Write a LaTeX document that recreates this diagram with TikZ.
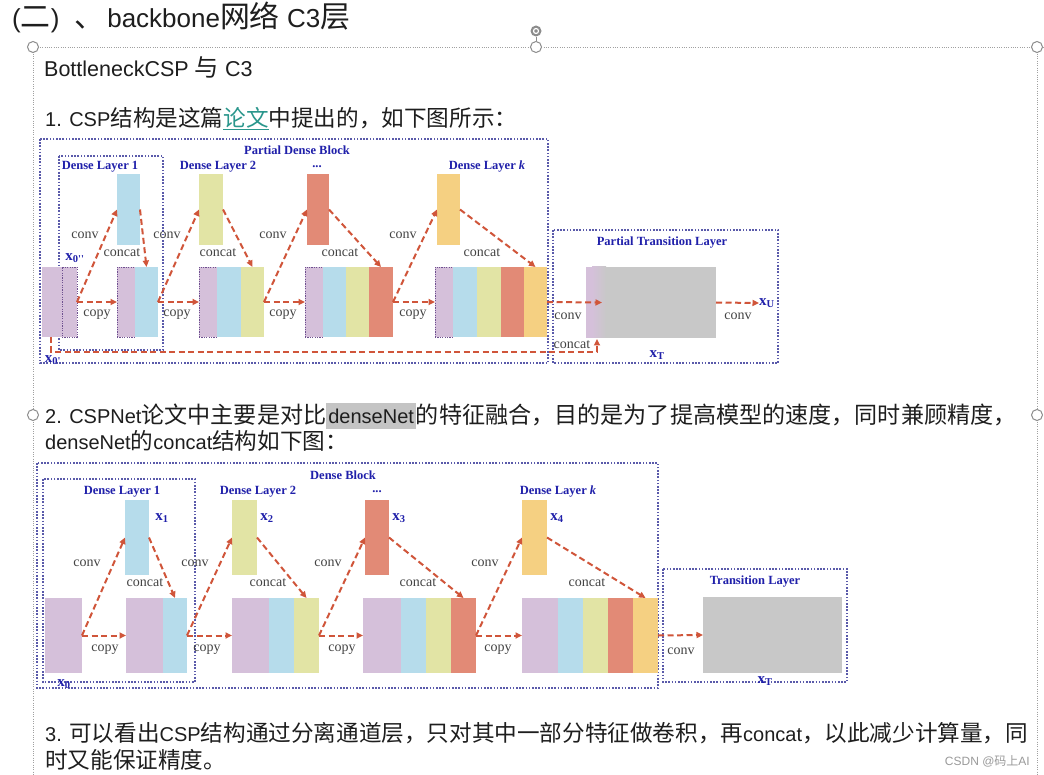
\documentclass[tikz,border=0pt]{standalone}
\usepackage{fontspec}
\setmainfont{Liberation Sans}
\newfontfamily\cjk[Scale=1.13]{Noto Sans CJK SC}
\newfontfamily\cjkb[Scale=1.155]{Noto Sans CJK SC}
\newfontfamily\cjt[Scale=1.15]{Noto Sans CJK SC}
\newfontfamily\cjw{Noto Sans CJK SC}
\newfontfamily\srf{Liberation Serif}
\usetikzlibrary{arrows.meta,fit,calc}
\definecolor{cP}{HTML}{D5C0DA}
\definecolor{cB}{HTML}{B6DCEB}
\definecolor{cY}{HTML}{E2E4A5}
\definecolor{cS}{HTML}{E28A76}
\definecolor{cO}{HTML}{F5D082}
\definecolor{cG}{HTML}{C8C8C8}
\definecolor{arc}{HTML}{D0553A}
\definecolor{lbc}{HTML}{444444}
\definecolor{blc}{HTML}{2020AA}
\definecolor{dbc}{HTML}{5A5AAA}
\definecolor{pdc}{HTML}{6E5090}
\definecolor{frc}{HTML}{A0A0A0}
\definecolor{hdc}{HTML}{8C8C8C}
\definecolor{txc}{HTML}{1E1E1E}
\definecolor{lnk}{HTML}{2A968C}
\definecolor{hlc}{HTML}{C4C4C4}
\definecolor{wmc}{HTML}{9A9A9A}
\newcommand\hlt[1]{{\setlength{\fboxsep}{0pt}\colorbox{hlc}{\rule[-6pt]{0pt}{26pt}\hspace{2pt}#1\hspace{2pt}}}}
\newcommand\B[4]{\node[blk,fill=#2,fit={#3 #4}] (#1) {};}
\newcommand\BD[4]{\node[blk,fill=#2,pdot,fit={#3 #4}] (#1) {};}
\tikzset{
 blk/.style={inner sep=0pt, outer sep=0pt, draw=none},
 pdot/.style={draw=pdc, dash pattern=on 1.2pt off 1.2pt, line width=0.9pt},
 arr/.style={draw=arc, line width=2pt, dash pattern=on 6pt off 3.5pt, -{Triangle[length=6.5pt,width=6pt]}},
 lbl/.style={font=\srf\fontsize{14}{14}\selectfont, text=lbc, inner sep=0pt},
 bl/.style={font=\srf\bfseries\fontsize{12.5}{13}\selectfont, text=blc, inner sep=0pt},
 bx/.style={font=\srf\bfseries\fontsize{15}{15}\selectfont, text=blc, inner sep=0pt},
 dbox/.style={draw=dbc, line width=1.1pt, dash pattern=on 1.6pt off 1.6pt},
 frm/.style={draw=frc, line width=0.8pt, dash pattern=on 1pt off 1.3pt},
 hdl/.style={circle, draw=hdc, line width=1pt, fill=white, minimum size=11pt, inner sep=0pt},
 txt/.style={inner sep=0pt, anchor=base west, text=txc, font=\fontsize{20}{24}\selectfont},
}
\begin{document}
\begin{tikzpicture}[x=1pt,y=-1pt]
\useasboundingbox (0,0) rectangle (1044,775);
\fill[white] (0,0) rectangle (1044,775);

% ---------- text box frame ----------
\coordinate (fTL) at (33,47);
\coordinate (fTR) at (1044,47);
\coordinate (fBL) at (33,775);
\coordinate (fRT) at (1037,47);
\coordinate (fRB) at (1037,775);
\draw[frm] (fTL) -- (fTR);
\draw[frm] (fTL) -- (fBL);
\draw[frm] (fRT) -- (fRB);
\node[hdl] (hA) at (33,47) {};
\node[hdl] (hB) at (536,47) {};
\node[hdl] (hC) at (1037,47) {};
\node[hdl] (hD) at (33,415) {};
\node[hdl] (hE) at (1037,415) {};
\node[circle, fill=hdc, minimum size=11pt, inner sep=0pt] (rot) at (536,31) {};
\node[circle, draw=white, line width=1.2pt, minimum size=5pt, inner sep=0pt] (roti) at (rot) {};
\draw[hdc, line width=1pt] (rot) -- (hB);

% ---------- texts ----------
\node[inner sep=0pt, anchor=base west, text=txc, font=\fontsize{26}{30}\selectfont] (title) at (12,28)
  {({\cjt 二})\hspace{15pt}{\cjt 、}\hspace{3pt}backbone{\cjt 网络} C3{\cjt 层}};
\node[inner sep=0pt, anchor=base west, text=txc, font=\fontsize{21.5}{24}\selectfont] (h1) at (44,77) {BottleneckCSP {\cjk 与} C3};
\node[txt] (p1) at (45,126.5) {1. CSP{\cjk 结构是这篇}{\color{lnk}\underline{\cjk 论文}}{\cjk 中提出的，如下图所示：}};
\node[txt] (p2a) at (45,423) {2. CSPNet{\cjkb 论文中主要是对比}\hlt{denseNet}{\cjkb 的特征融合，目的是为了提高模型的速度，同时兼顾精度，}};
\node[txt] (p2b) at (45,449.5) {denseNet{\cjk 的}concat{\cjk 结构如下图：}};
\node[txt] (p3a) at (45,741.5) {3. {\cjk 可以看出}CSP{\cjk 结构通过分离通道层，只对其中一部分特征做卷积，再}concat{\cjk ，以此减少计算量，同}};
\node[txt] (p3b) at (45,768.5) {{\cjk 时又能保证精度。}};
\node[anchor=base east, inner sep=0pt, text=wmc, font=\fontsize{12}{12}\selectfont] (wm) at (1030,765) {CSDN @{\cjw 码上}AI};

% ================= Diagram 1 =================
\draw[dbox] (40,139) rectangle (548,363);
\draw[dbox] (59,156) rectangle (163,350);
\draw[dbox] (553,230) rectangle (778,363);

\B{a0}{cP}{(42,267)}{(77,337)}
\BD{a0d}{cP}{(62,267)}{(77,337)}
\B{t1}{cB}{(117,174)}{(140,245)}
\BD{o1a}{cP}{(117,267)}{(135,337)}
\B{o1b}{cB}{(135,267)}{(158,337)}
\B{t2}{cY}{(199,174)}{(223,245)}
\BD{o2a}{cP}{(199,267)}{(217,337)}
\B{o2b}{cB}{(217,267)}{(241,337)}
\B{o2c}{cY}{(241,267)}{(264,337)}
\B{t3}{cS}{(307,174)}{(329,245)}
\BD{o3a}{cP}{(305,267)}{(323,337)}
\B{o3b}{cB}{(323,267)}{(346,337)}
\B{o3c}{cY}{(346,267)}{(369,337)}
\B{o3d}{cS}{(369,267)}{(393,337)}
\B{tk}{cO}{(437,174)}{(460,245)}
\BD{oka}{cP}{(435,267)}{(453,337)}
\B{okb}{cB}{(453,267)}{(477,337)}
\B{okc}{cY}{(477,267)}{(501,337)}
\B{okd}{cS}{(501,267)}{(524,337)}
\B{oke}{cO}{(524,267)}{(547,337)}
\B{G1}{cG}{(586,267)}{(716,338)}
\fill[cP] (586,267) rectangle (592,338);
\shade[left color=cP, right color=cG] (592,267) rectangle (606,338);

\draw[arr] (a0.east) -- (o1a.west);
\draw[arr] (a0.east) -- (t1.west);
\draw[arr] (t1.east) -- (o1b.north);
\draw[arr] (o1b.east) -- (o2a.west);
\draw[arr] (o1b.east) -- (t2.west);
\draw[arr] (t2.east) -- (o2c.north);
\draw[arr] (o2c.east) -- (o3a.west);
\draw[arr] (o2c.east) -- (t3.west);
\draw[arr] (t3.east) -- (o3d.north);
\draw[arr] (o3d.east) -- (oka.west);
\draw[arr] (o3d.east) -- (tk.west);
\draw[arr] (tk.east) -- (oke.north);
\draw[arr] (oke.east) -- ($(G1.west)+(16,0)$);
\node[bx, anchor=west] (xU) at (759,303) {x\textsubscript{U}};
\draw[arr] (G1.east) -- (xU.west);
\draw[arr] ($(a0.south west)+(9,0)$) -- ++(0,15) -| ($(G1.south west)+(11,1)$);

\node[lbl] (l1a) at (85,235) {conv};
\node[lbl] (l1b) at (97,315) {copy};
\node[lbl] (l1c) at (122,253) {concat};
\node[lbl] (l2a) at (167,235) {conv};
\node[lbl] (l2b) at (177,315) {copy};
\node[lbl] (l2c) at (218,253) {concat};
\node[lbl] (l3a) at (273,235) {conv};
\node[lbl] (l3b) at (283,315) {copy};
\node[lbl] (l3c) at (340,253) {concat};
\node[lbl] (l4a) at (403,235) {conv};
\node[lbl] (l4b) at (413,315) {copy};
\node[lbl] (l4c) at (482,253) {concat};
\node[lbl] (l5a) at (568,316) {conv};
\node[lbl] (l5b) at (738,316) {conv};
\node[lbl] (l5c) at (572,345) {concat};

\node[bl] (n1) at (297,150) {Partial Dense Block};
\node[bl] (n2) at (100,167) {Dense Layer 1};
\node[bl] (n3) at (218,167) {Dense Layer 2};
\node[bl] (n4) at (317,167) {...};
\node[bl] (n5) at (487,167) {Dense Layer \textit{k}};
\node[bl] (n6) at (662,243) {Partial Transition Layer};
\node[bx] (x0a) at (75,258) {x\textsubscript{0''}};
\node[bx] (x0b) at (53,360) {x\textsubscript{0'}};
\node[bx] (xT1) at (657,355) {x\textsubscript{T}};

% ================= Diagram 2 =================
\draw[dbox] (37,463) rectangle (658,688);
\draw[dbox] (43,479) rectangle (195,682);
\draw[dbox] (663,569) rectangle (847,682);

\B{b0}{cP}{(45,598)}{(82,673)}
\B{u1}{cB}{(125,500)}{(149,575)}
\B{p1a}{cP}{(126,598)}{(163,673)}
\B{p1b}{cB}{(163,598)}{(187,673)}
\B{u2}{cY}{(232,500)}{(257,575)}
\B{p2a}{cP}{(232,598)}{(269,673)}
\B{p2b}{cB}{(269,598)}{(294,673)}
\B{p2c}{cY}{(294,598)}{(319,673)}
\B{u3}{cS}{(365,500)}{(389,575)}
\B{p3a}{cP}{(363,598)}{(401,673)}
\B{p3b}{cB}{(401,598)}{(426,673)}
\B{p3c}{cY}{(426,598)}{(451,673)}
\B{p3d}{cS}{(451,598)}{(476,673)}
\B{uk}{cO}{(522,500)}{(547,575)}
\B{pka}{cP}{(522,598)}{(558,673)}
\B{pkb}{cB}{(558,598)}{(583,673)}
\B{pkc}{cY}{(583,598)}{(608,673)}
\B{pkd}{cS}{(608,598)}{(633,673)}
\B{pke}{cO}{(633,598)}{(658,673)}
\B{G2}{cG}{(703,597)}{(842,673)}

\draw[arr] (b0.east) -- (p1a.west);
\draw[arr] (b0.east) -- (u1.west);
\draw[arr] (u1.east) -- (p1b.north);
\draw[arr] (p1b.east) -- (p2a.west);
\draw[arr] (p1b.east) -- (u2.west);
\draw[arr] (u2.east) -- (p2c.north);
\draw[arr] (p2c.east) -- (p3a.west);
\draw[arr] (p2c.east) -- (u3.west);
\draw[arr] (u3.east) -- (p3d.north);
\draw[arr] (p3d.east) -- (pka.west);
\draw[arr] (p3d.east) -- (uk.west);
\draw[arr] (uk.east) -- (pke.north);
\draw[arr] (pke.east) -- (G2.west);

\node[lbl] (m1a) at (87,563) {conv};
\node[lbl] (m1b) at (105,650) {copy};
\node[lbl] (m1c) at (145,583) {concat};
\node[lbl] (m2a) at (195,563) {conv};
\node[lbl] (m2b) at (207,650) {copy};
\node[lbl] (m2c) at (268,583) {concat};
\node[lbl] (m3a) at (328,563) {conv};
\node[lbl] (m3b) at (342,650) {copy};
\node[lbl] (m3c) at (418,583) {concat};
\node[lbl] (m4a) at (485,563) {conv};
\node[lbl] (m4b) at (498,650) {copy};
\node[lbl] (m4c) at (587,583) {concat};
\node[lbl] (m5a) at (681,651) {conv};

\node[bl] (q1) at (343,475) {Dense Block};
\node[bl] (q2) at (122,492) {Dense Layer 1};
\node[bl] (q3) at (258,492) {Dense Layer 2};
\node[bl] (q4) at (377,492) {...};
\node[bl] (q5) at (558,492) {Dense Layer \textit{k}};
\node[bl] (q6) at (755,582) {Transition Layer};
\node[bx] (y1) at (162,518) {x\textsubscript{1}};
\node[bx] (y2) at (267,518) {x\textsubscript{2}};
\node[bx] (y3) at (399,518) {x\textsubscript{3}};
\node[bx] (y4) at (557,518) {x\textsubscript{4}};
\node[bx] (y0) at (64,684) {x\textsubscript{0}};
\node[bx] (yT) at (765,681) {x\textsubscript{T}};
\end{tikzpicture}
\end{document}
